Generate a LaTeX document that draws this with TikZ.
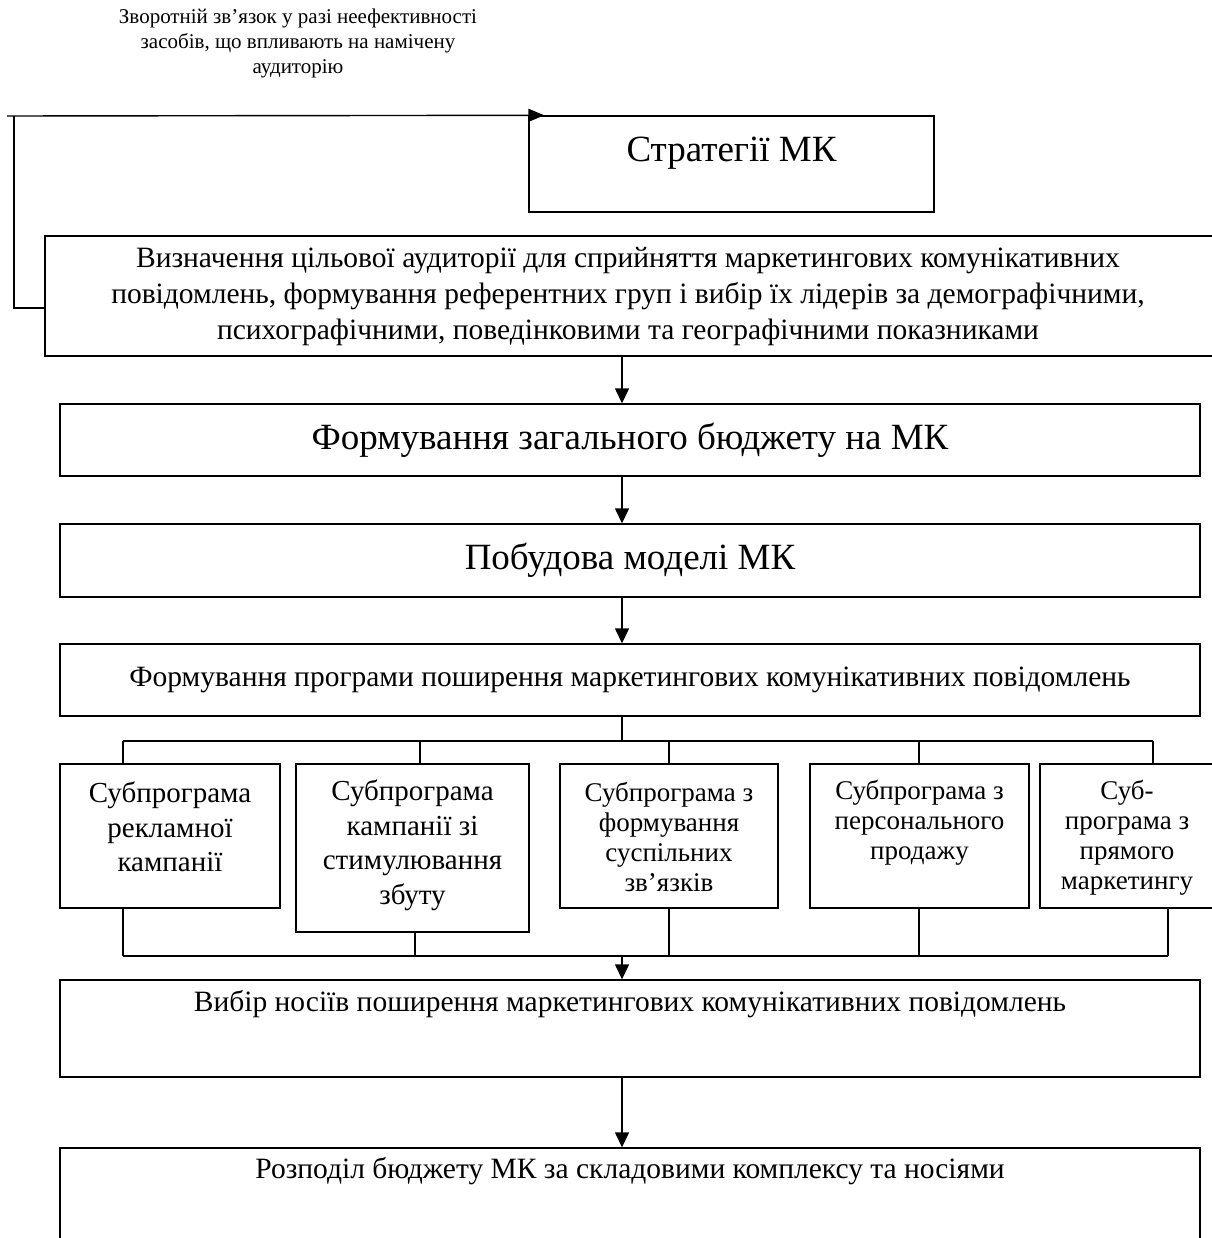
\documentclass[tikz,border=0pt]{standalone}
\usepackage{fontspec}
\setmainfont{Liberation Serif}
\usetikzlibrary{arrows.meta}
\newcommand\fszCap{\fontsize{21}{25}\selectfont}
\newcommand\fszBig{\fontsize{37}{42}\selectfont}
\newcommand\fszMid{\fontsize{29.5}{36}\selectfont}
\newcommand\fszSubA{\fontsize{29}{34.5}\selectfont}
\newcommand\fszSubB{\fontsize{27}{30}\selectfont}
\tikzset{
  box/.style={draw, line width=1.4pt, rectangle, inner sep=0pt},
  conn/.style={line width=1.4pt},
  arr/.style={line width=1.4pt, -{Triangle[length=15pt,width=14pt]}},
  arrfb/.style={line width=1.4pt, -{Triangle[length=16pt,width=13pt]}},
  txt/.style={align=center, inner sep=0pt},
}
\begin{document}
\begin{tikzpicture}[x=1pt,y=-1pt]
\path[fill=white] (0,0) rectangle (1211,1238);
\useasboundingbox (0,0) rectangle (1211,1238);

% caption
\node[txt, font=\fszCap] (cap) at (298,43) {Зворотній зв’язок у разі неефективності\\засобів, що впливають на намічену\\аудиторію};

% strategy
\node[box, minimum width=405pt, minimum height=96pt] (strat) at (731.5,164) {};
\node[txt, font=\fszBig] (stratT) at (731.5,153) {Стратегії МК};

% box 2
\node[box, minimum width=1171pt, minimum height=120pt] (b2) at (630.5,296) {};
\node[txt, font=\fszMid] (b2t) at (628,297) {Визначення цільової аудиторії для сприйняття маркетингових комунікативних\\повідомлень, формування референтних груп і вибір їх лідерів за демографічними,\\психографічними, поведінковими та географічними показниками};

% box 3, 4, 5
\node[box, minimum width=1140pt, minimum height=72pt, font=\fszBig] (b3) at (630,440) {Формування загального бюджету на МК};
\node[box, minimum width=1140pt, minimum height=73pt, font=\fszBig] (b4) at (630,560.5) {Побудова моделі МК};
\node[box, minimum width=1140pt, minimum height=72pt, font=\fszMid] (b5) at (630,680) {Формування програми поширення маркетингових комунікативних повідомлень};

% sub-boxes
\node[box, minimum width=220pt, minimum height=144pt] (s1) at (170,836) {};
\node[txt, font=\fszSubA] (s1t) at (170,827) {Субпрограма\\рекламної\\кампанії};
\node[box, minimum width=233pt, minimum height=168pt] (s2) at (412.5,848) {};
\node[txt, font=\fszSubA] (s2t) at (412.5,845) {Субпрограма\\кампанії зі\\стимулювання\\збуту};
\node[box, minimum width=218pt, minimum height=144pt] (s3) at (669,836) {};
\node[txt, font=\fszSubB] (s3t) at (669,837) {Субпрограма з\\формування\\суспільних\\зв’язків};
\node[box, minimum width=219pt, minimum height=144pt] (s4) at (919.5,836) {};
\node[txt, font=\fszSubB] (s4t) at (919.5,823) {Субпрограма з\\персонального\\продажу};
\node[box, minimum width=174pt, minimum height=144pt] (s5) at (1127,836) {};
\node[txt, font=\fszSubB] (s5t) at (1127,838) {Суб-\\програма з\\прямого\\маркетингу};

% box 6, 7
\node[box, minimum width=1140pt, minimum height=97pt] (b6) at (630,1028.5) {};
\node[txt, font=\fszMid] (b6t) at (630,1004) {Вибір носіїв поширення маркетингових комунікативних повідомлень};
\node[box, minimum width=1140pt, minimum height=112pt] (b7) at (630,1204) {};
\node[txt, font=\fszMid] (b7t) at (630,1171) {Розподіл бюджету МК за складовими комплексу та носіями};

% coordinates
\coordinate (ax) at (622,0);
\coordinate (d1) at (123,741);
\coordinate (d2) at (420,741);
\coordinate (d3) at (669,741);
\coordinate (d4) at (919,741);
\coordinate (d5) at (1153,741);
\coordinate (u1) at (123,956);
\coordinate (u2) at (415,956);
\coordinate (u3) at (669,956);
\coordinate (u4) at (919,956);
\coordinate (u5) at (1168,956);
\coordinate (fbc) at (14,308);
\coordinate (fbs) at (7,116);

% feedback
\draw[conn] (b2.west |- fbc) -- (fbc) -- (fbc |- fbs);
\draw[arrfb] (fbs) -- ([xshift=16pt]strat.north west);

% main arrows
\draw[arr] (b2.south -| ax) -- (b3.north -| ax);
\draw[arr] (b3.south -| ax) -- (b4.north -| ax);
\draw[arr] (b4.south -| ax) -- (b5.north -| ax);
\draw[conn] (b5.south -| ax) -- (d1 -| ax);

% top bus
\draw[conn] (d1) -- (d5);
\draw[conn] (d1) -- (d1 |- s1.north);
\draw[conn] (d2) -- (d2 |- s2.north);
\draw[conn] (d3) -- (d3 |- s3.north);
\draw[conn] (d4) -- (d4 |- s4.north);
\draw[conn] (d5) -- (d5 |- s5.north);

% bottom bus
\draw[conn] (u1) -- (u5);
\draw[conn] (u1 |- s1.south) -- (u1);
\draw[conn] (u2 |- s2.south) -- (u2);
\draw[conn] (u3 |- s3.south) -- (u3);
\draw[conn] (u4 |- s4.south) -- (u4);
\draw[conn] (u5 |- s5.south) -- (u5);

\draw[arr] (u1 -| ax) -- (b6.north -| ax);
\draw[arr] (b6.south -| ax) -- (b7.north -| ax);
\end{tikzpicture}
\end{document}
